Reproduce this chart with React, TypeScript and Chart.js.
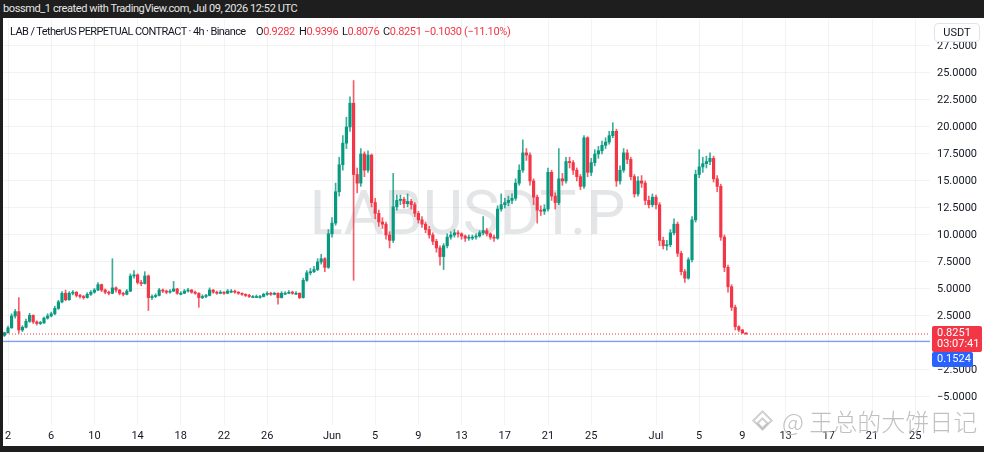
import React, { useEffect, useRef } from 'react';
import { Chart, registerables } from 'chart.js';

Chart.register(...registerables);

// ---- data (8h candles, LAB/USDT perpetual) ----
const firstOpenDay = 2 / 3; // days since May 1 00:00 (May 1 16:00)
const periodDays = 1 / 3;

const opens = [
  0.70, 0.95, 1.40, 2.50, 2.90, 1.20, 1.45, 2.00, 2.55, 1.95,
  1.80, 1.85, 2.30, 2.50, 2.70, 3.20, 3.80, 4.60, 4.00, 4.60,
  4.70, 4.40, 4.30, 4.20, 4.50, 4.70, 4.90, 5.40, 4.90, 4.70,
  4.60, 5.10, 4.90, 4.60, 4.50, 4.80, 6.20, 6.30, 5.60, 5.50,
  6.20, 4.20, 4.30, 4.40, 4.90, 4.80, 4.70, 4.80, 5.00, 4.60,
  4.60, 4.80, 4.90, 4.70, 4.60, 4.20, 4.30, 4.40, 4.90, 4.70,
  4.60, 4.70, 4.60, 4.80, 4.80, 4.70, 4.60, 4.50, 4.40, 4.30,
  4.30, 4.30, 4.30, 4.50, 4.60, 4.50, 4.60, 4.20, 4.60, 4.60,
  4.70, 4.60, 4.60, 4.20, 5.80, 6.50, 6.60, 6.80, 7.50, 7.80,
  7.00, 10.10, 11.10, 14.00, 16.50, 18.50, 20.00, 22.20, 15.60, 14.80,
  17.50, 16.00, 17.40, 13.00, 12.00, 11.20, 11.00, 10.00, 9.50, 12.60,
  13.20, 13.30, 12.90, 13.10, 12.80, 12.00, 11.40, 11.00, 10.50, 10.00,
  9.40, 8.80, 8.00, 9.00, 9.80, 10.00, 10.20, 10.10, 9.90, 9.70,
  9.80, 9.80, 9.90, 10.20, 10.40, 10.10, 9.80, 9.70, 12.40, 12.80,
  13.00, 13.20, 13.40, 14.80, 16.00, 17.60, 17.40, 15.00, 13.50, 12.30,
  12.20, 12.40, 15.80, 13.60, 13.00, 15.20, 15.00, 16.80, 16.70, 16.00,
  15.40, 14.50, 19.00, 15.80, 16.70, 17.50, 17.80, 18.30, 18.60, 19.20,
  19.60, 15.00, 16.00, 17.60, 17.00, 15.40, 13.80, 15.00, 14.80, 13.20,
  12.80, 13.50, 12.80, 9.50, 9.00, 9.10, 10.20, 11.00, 8.30, 6.60,
  6.00, 7.70, 11.40, 15.60, 16.30, 16.60, 16.80, 17.10, 15.20, 14.50,
  9.80, 7.00, 5.20, 3.30, 1.50, 1.20, 0.9282,
];

const highs = [
  1.00, 1.55, 2.70, 3.10, 4.20, 1.60, 2.20, 2.75, 2.60, 2.05,
  2.00, 2.40, 2.70, 2.85, 3.40, 3.95, 4.75, 4.90, 4.75, 4.85,
  4.75, 4.50, 4.40, 4.65, 4.85, 5.05, 5.60, 5.45, 5.00, 4.80,
  7.80, 5.20, 4.95, 4.70, 4.95, 6.40, 6.70, 6.40, 5.80, 6.60,
  6.30, 4.45, 4.55, 5.05, 5.00, 4.90, 4.95, 5.70, 5.05, 4.75,
  4.95, 5.05, 4.95, 4.80, 4.65, 4.45, 4.50, 5.10, 4.95, 4.80,
  4.85, 4.75, 4.95, 4.95, 4.90, 4.75, 4.65, 4.55, 4.50, 4.40,
  4.45, 4.40, 4.60, 4.75, 4.70, 4.70, 4.65, 4.75, 4.75, 4.85,
  4.80, 4.75, 4.65, 6.00, 6.70, 6.90, 7.10, 7.80, 8.20, 7.90,
  10.50, 11.60, 14.80, 17.20, 19.20, 20.90, 22.80, 24.30, 16.20, 18.00,
  17.70, 17.80, 17.50, 13.40, 12.30, 11.60, 11.20, 10.30, 15.70, 13.70,
  13.70, 13.50, 13.80, 13.30, 13.00, 12.20, 11.70, 11.20, 10.80, 10.20,
  9.60, 9.00, 9.20, 10.10, 10.30, 10.50, 10.40, 10.20, 10.00, 10.00,
  10.00, 10.10, 10.40, 11.70, 10.60, 10.20, 10.00, 12.70, 13.80, 13.40,
  13.60, 13.80, 15.20, 16.50, 18.80, 18.00, 17.60, 15.20, 13.70, 12.70,
  12.80, 16.20, 16.00, 13.90, 18.00, 15.70, 17.20, 17.20, 16.90, 16.20,
  15.60, 19.20, 19.10, 17.10, 17.90, 18.20, 18.70, 19.00, 19.60, 20.40,
  19.80, 16.40, 18.00, 17.90, 17.20, 15.60, 15.40, 15.50, 15.00, 13.60,
  13.80, 13.70, 13.00, 9.80, 9.50, 10.50, 11.50, 11.20, 8.50, 6.80,
  7.90, 11.70, 16.00, 17.90, 17.20, 17.30, 17.60, 17.30, 15.50, 14.70,
  10.00, 7.20, 5.40, 3.50, 1.60, 1.25, 0.9396,
];

const lows = [
  0.60, 0.90, 1.35, 2.30, 0.90, 1.05, 1.40, 1.90, 1.80, 1.65,
  1.70, 1.80, 2.20, 2.40, 2.60, 3.10, 3.70, 3.90, 3.95, 4.45,
  4.25, 4.15, 4.05, 4.15, 4.40, 4.60, 4.85, 4.75, 4.55, 4.45,
  4.55, 4.70, 4.45, 4.35, 4.45, 4.75, 6.00, 5.45, 5.30, 5.45,
  3.00, 4.00, 4.20, 4.35, 4.65, 4.55, 4.60, 4.75, 4.50, 4.45,
  4.55, 4.70, 4.60, 4.50, 3.30, 4.10, 4.20, 4.35, 4.60, 4.50,
  4.55, 4.50, 4.55, 4.65, 4.60, 4.50, 4.40, 4.30, 4.20, 4.20,
  4.20, 4.15, 4.25, 4.40, 4.40, 4.45, 3.60, 4.15, 4.50, 4.55,
  4.50, 4.50, 4.10, 4.15, 5.70, 6.30, 6.50, 6.70, 7.30, 6.60,
  6.90, 9.80, 10.90, 13.60, 16.00, 18.00, 19.60, 5.80, 13.90, 14.50,
  15.40, 15.80, 12.60, 11.50, 10.80, 10.60, 9.60, 8.80, 9.30, 12.30,
  12.80, 12.50, 12.60, 12.40, 11.70, 11.10, 10.70, 10.20, 9.70, 9.10,
  8.40, 7.20, 6.80, 8.80, 9.60, 9.80, 9.80, 9.60, 9.40, 9.50,
  9.55, 9.60, 9.80, 10.00, 9.90, 9.60, 9.40, 9.60, 12.20, 12.50,
  12.70, 12.90, 13.20, 14.60, 15.80, 16.90, 14.60, 12.80, 11.10, 11.80,
  11.90, 12.20, 13.20, 12.40, 12.80, 14.60, 14.80, 16.20, 15.60, 15.00,
  14.20, 14.30, 15.40, 15.50, 16.40, 17.10, 17.50, 18.00, 18.40, 19.00,
  14.50, 14.70, 15.80, 16.60, 15.10, 13.50, 13.60, 14.40, 12.80, 12.50,
  12.60, 12.40, 9.00, 8.70, 8.60, 8.90, 10.00, 8.00, 6.30, 5.60,
  5.90, 7.50, 11.20, 15.30, 15.80, 16.20, 16.50, 14.90, 14.00, 9.50,
  6.60, 4.70, 3.00, 1.20, 1.05, 0.88, 0.8076,
];

const closes = [
  0.95, 1.40, 2.50, 2.90, 1.20, 1.45, 2.00, 2.55, 1.95, 1.80,
  1.85, 2.30, 2.50, 2.70, 3.20, 3.80, 4.60, 4.00, 4.60, 4.70,
  4.40, 4.30, 4.20, 4.50, 4.70, 4.90, 5.40, 4.90, 4.70, 4.60,
  5.10, 4.90, 4.60, 4.50, 4.80, 6.20, 6.30, 5.60, 5.50, 6.20,
  4.20, 4.30, 4.40, 4.90, 4.80, 4.70, 4.80, 5.00, 4.60, 4.60,
  4.80, 4.90, 4.70, 4.60, 4.20, 4.30, 4.40, 4.90, 4.70, 4.60,
  4.70, 4.60, 4.80, 4.80, 4.70, 4.60, 4.50, 4.40, 4.30, 4.30,
  4.30, 4.30, 4.50, 4.60, 4.50, 4.60, 4.20, 4.60, 4.60, 4.70,
  4.60, 4.60, 4.20, 5.80, 6.50, 6.60, 6.80, 7.50, 7.80, 7.00,
  10.10, 11.10, 14.00, 16.50, 18.50, 20.00, 22.20, 15.60, 14.80, 17.50,
  16.00, 17.40, 13.00, 12.00, 11.20, 11.00, 10.00, 9.50, 12.60, 13.20,
  13.30, 12.90, 13.10, 12.80, 12.00, 11.40, 11.00, 10.50, 10.00, 9.40,
  8.80, 8.00, 9.00, 9.80, 10.00, 10.20, 10.10, 9.90, 9.70, 9.80,
  9.80, 9.90, 10.20, 10.40, 10.10, 9.80, 9.70, 12.40, 12.80, 13.00,
  13.20, 13.40, 14.80, 16.00, 17.60, 17.40, 15.00, 13.50, 12.30, 12.20,
  12.40, 15.80, 13.60, 13.00, 15.20, 15.00, 16.80, 16.70, 16.00, 15.40,
  14.50, 19.00, 15.80, 16.70, 17.50, 17.80, 18.30, 18.60, 19.20, 19.60,
  15.00, 16.00, 17.60, 17.00, 15.40, 13.80, 15.00, 14.80, 13.20, 12.80,
  13.50, 12.80, 9.50, 9.00, 9.10, 10.20, 11.00, 8.30, 6.60, 6.00,
  7.70, 11.40, 15.60, 16.30, 16.60, 16.80, 17.10, 15.20, 14.50, 9.80,
  7.00, 5.20, 3.30, 1.50, 1.20, 0.9282, 0.8251,
];

// x-axis ticks (days since May 1 00:00) and their labels
const xTickDays = [1, 5, 9, 13, 17, 21, 25, 31, 35, 39, 43, 47, 51, 55, 61, 65, 69, 73, 77, 81, 85];
const xTickLabels = ['2', '6', '10', '14', '18', '22', '26', 'Jun', '5', '9', '13', '17', '21', '25', 'Jul', '5', '9', '13', '17', '21', '25'];
const yTickValues = [-5, -2.5, 0, 2.5, 5, 7.5, 10, 12.5, 15, 17.5, 20, 22.5, 25, 27.5];

const X_MIN = 0.537;
const X_MAX = 86.37;
const Y_MIN = -7.6;
const Y_MAX = 30.0;

const lastPrice = 0.8251;
const markPrice = 0.1524;
const countdown = '03:07:41';
const legendOpen = '0.9282';
const legendHigh = '0.9396';
const legendLow = '0.8076';
const legendClose = '0.8251';
const legendChange = '\u22120.1030 (\u221211.10%)';
const symbolTitle = 'LAB / TetherUS PERPETUAL CONTRACT \u00b7 4h \u00b7 Binance';
const headerText = 'bossmd_1 created with TradingView.com, Jul 09, 2026 12:52 UTC';
const watermark = 'LABUSDT.P';
const authorMark = '王总的大饼日记';

const UP = '#089981';
const DOWN = '#f23645';
const BLUE = '#2962ff';
const GRID = 'rgba(42,46,57,0.06)';
const TEXT = '#131722';
const FONT = 'Roboto, "Liberation Sans", sans-serif';

const fmtPrice = (v: number) => {
  const s = Math.abs(v).toFixed(4);
  return v < 0 ? '\u2212' + s : s;
};

const watermarkPlugin = {
  id: 'watermark',
  beforeDatasetsDraw(chart: any) {
    const { ctx, chartArea } = chart;
    ctx.save();
    ctx.font = `62px ${FONT}`;
    ctx.fillStyle = 'rgba(120,123,134,0.2)';
    ctx.textAlign = 'center';
    ctx.textBaseline = 'middle';
    ctx.fillText(watermark, (chartArea.left + chartArea.right) / 2 + 1, (chartArea.top + chartArea.bottom) / 2 - 4);
    ctx.restore();
  },
};

const priceLabelPlugin = {
  id: 'priceLabels',
  afterDraw(chart: any) {
    const { ctx, chartArea, scales } = chart;
    const py = scales.y.getPixelForValue(lastPrice);
    const left = chartArea.right + 2;
    ctx.save();
    ctx.fillStyle = DOWN;
    ctx.beginPath();
    ctx.roundRect(left, py - 8, 50, 26, 2);
    ctx.fill();
    ctx.fillStyle = BLUE;
    ctx.beginPath();
    ctx.roundRect(left, py + 18, 41, 15, 2);
    ctx.fill();
    ctx.fillStyle = '#ffffff';
    ctx.font = `11px ${FONT}`;
    ctx.textAlign = 'left';
    ctx.textBaseline = 'middle';
    ctx.fillText(fmtPrice(lastPrice), left + 5, py - 1);
    ctx.fillText(countdown, left + 5, py + 10);
    ctx.fillText(fmtPrice(markPrice), left + 5, py + 25.5);
    ctx.restore();
  },
};

function CandleChart() {
  const ref = useRef<HTMLCanvasElement | null>(null);
  useEffect(() => {
    if (!ref.current) return;
    const times = opens.map((_, i) => firstOpenDay + i * periodDays);
    const colors = closes.map((c, i) => (c >= opens[i] ? UP : DOWN));
    const wickColors = closes.map((c, i) => (c >= opens[i] ? 'rgba(8,153,129,0.8)' : 'rgba(242,54,69,0.8)'));
    const chart = new Chart(ref.current, {
      type: 'bar',
      data: {
        datasets: [
          {
            type: 'line',
            data: [{ x: X_MIN, y: lastPrice }, { x: X_MAX, y: lastPrice }],
            borderColor: DOWN,
            borderWidth: 1,
            borderDash: [1, 2],
            pointRadius: 0,
            order: 1,
          } as any,
          {
            type: 'line',
            data: [{ x: X_MIN, y: markPrice }, { x: X_MAX, y: markPrice }],
            borderColor: '#5b83ff',
            borderWidth: 1,
            pointRadius: 0,
            order: 1,
          } as any,
          {
            data: times.map((t, i) => ({ x: t, y: [lows[i], highs[i]] })),
            backgroundColor: wickColors,
            borderWidth: 0,
            barThickness: 1,
            grouped: false,
            order: 3,
          } as any,
          {
            data: times.map((t, i) => ({ x: t, y: [opens[i], closes[i]] })),
            backgroundColor: colors,
            borderWidth: 0,
            barThickness: 2.5,
            minBarLength: 1,
            grouped: false,
            order: 2,
          } as any,
        ],
      },
      options: {
        animation: false,
        responsive: true,
        maintainAspectRatio: false,
        layout: { padding: { top: 1, left: 0, right: 0, bottom: 0 } },
        plugins: { legend: { display: false }, tooltip: { enabled: false } },
        events: [],
        scales: {
          x: {
            type: 'linear',
            min: X_MIN,
            max: X_MAX,
            offset: false,
            grid: { color: GRID, drawTicks: false, offset: false },
            border: { display: false },
            afterBuildTicks: (axis: any) => {
              axis.ticks = xTickDays.map((v) => ({ value: v }));
            },
            afterFit: (axis: any) => {
              axis.height = 21;
              axis.paddingLeft = 0;
              axis.paddingRight = 0;
              axis.paddingTop = 0;
              axis.paddingBottom = 0;
            },
            ticks: {
              autoSkip: false,
              maxRotation: 0,
              padding: 5,
              color: TEXT,
              font: { size: 11, family: FONT },
              callback: (v: any) => {
                const i = xTickDays.indexOf(Number(v));
                return i >= 0 ? xTickLabels[i] : '';
              },
            },
          },
          y: {
            position: 'right',
            min: Y_MIN,
            max: Y_MAX,
            grid: { color: GRID, drawTicks: false },
            border: { display: false },
            afterBuildTicks: (axis: any) => {
              axis.ticks = yTickValues.map((v) => ({ value: v }));
            },
            afterFit: (axis: any) => {
              axis.width = 54;
              axis.paddingLeft = 0;
              axis.paddingRight = 0;
              axis.paddingTop = 0;
              axis.paddingBottom = 0;
            },
            ticks: {
              padding: 7,
              color: TEXT,
              font: { size: 11, family: FONT },
              callback: (v: any) => fmtPrice(Number(v)),
            },
          },
        },
      } as any,
      plugins: [watermarkPlugin, priceLabelPlugin],
    });
    return () => chart.destroy();
  }, []);
  return <canvas ref={ref} />;
}

export default function App() {
  const legendStyle: React.CSSProperties = {
    position: 'absolute',
    top: 25,
    fontSize: 11,
    lineHeight: '14px',
    letterSpacing: '-0.35px',
    whiteSpace: 'nowrap',
    color: TEXT,
  };
  const red: React.CSSProperties = { color: DOWN };
  return (
    <div
      style={{
        position: 'fixed',
        left: 0,
        top: 0,
        width: 984,
        height: 452,
        background: '#ffffff',
        overflow: 'hidden',
        fontFamily: FONT,
      }}
    >
      <div style={{ position: 'absolute', left: 0, top: 0, width: 984, height: 18, background: '#1e1e1e' }} />
      <div
        style={{
          position: 'absolute',
          left: 3,
          top: 2,
          fontSize: 11,
          lineHeight: '14px',
          letterSpacing: '-0.4px',
          color: '#e6e6e6',
          whiteSpace: 'nowrap',
        }}
      >
        {headerText}
      </div>
      <div style={{ position: 'absolute', left: 0, top: 18, width: 3, height: 434, background: '#1e1e1e' }} />
      <div style={{ position: 'absolute', left: 0, top: 446, width: 984, height: 6, background: '#1e1e1e' }} />
      <div style={{ position: 'absolute', left: 3, top: 18, width: 981, height: 428 }}>
        <CandleChart />
      </div>
      <div style={{ ...legendStyle, left: 10, letterSpacing: '-0.6px' }}>{symbolTitle}</div>
      <div style={{ ...legendStyle, left: 256 }}>
        O<span style={red}>{legendOpen}</span>
      </div>
      <div style={{ ...legendStyle, left: 299 }}>
        H<span style={red}>{legendHigh}</span>
      </div>
      <div style={{ ...legendStyle, left: 342 }}>
        L<span style={red}>{legendLow}</span>
      </div>
      <div style={{ ...legendStyle, left: 383 }}>
        C<span style={red}>{legendClose}</span>
      </div>
      <div style={{ ...legendStyle, left: 424, color: DOWN }}>{legendChange}</div>
      <div
        style={{
          position: 'absolute',
          left: 934,
          top: 23,
          width: 46,
          height: 19,
          border: '1px solid #e0e3eb',
          borderRadius: 4,
          background: '#ffffff',
          fontSize: 11,
          lineHeight: '17px',
          textAlign: 'center',
          color: TEXT,
          boxSizing: 'border-box',
        }}
      >
        USDT
      </div>
      <div
        style={{
          position: 'absolute',
          left: 755,
          top: 413,
          width: 15,
          height: 15,
          border: '2px solid rgba(170,170,170,0.55)',
          transform: 'rotate(45deg)',
          boxSizing: 'border-box',
        }}
      >
        <div
          style={{
            position: 'absolute',
            left: 3,
            top: 3,
            width: 5,
            height: 5,
            border: '2px solid rgba(170,170,170,0.55)',
          }}
        />
      </div>
      <div
        style={{
          position: 'absolute',
          left: 782,
          top: 405,
          fontSize: 24,
          lineHeight: '32px',
          fontFamily: '"Noto Sans CJK SC", sans-serif',
          fontWeight: 300,
          color: 'rgba(150,150,150,0.6)',
          textShadow: '0 0 2px #ffffff',
          whiteSpace: 'nowrap',
        }}
      >
        @ {authorMark}
      </div>
    </div>
  );
}
